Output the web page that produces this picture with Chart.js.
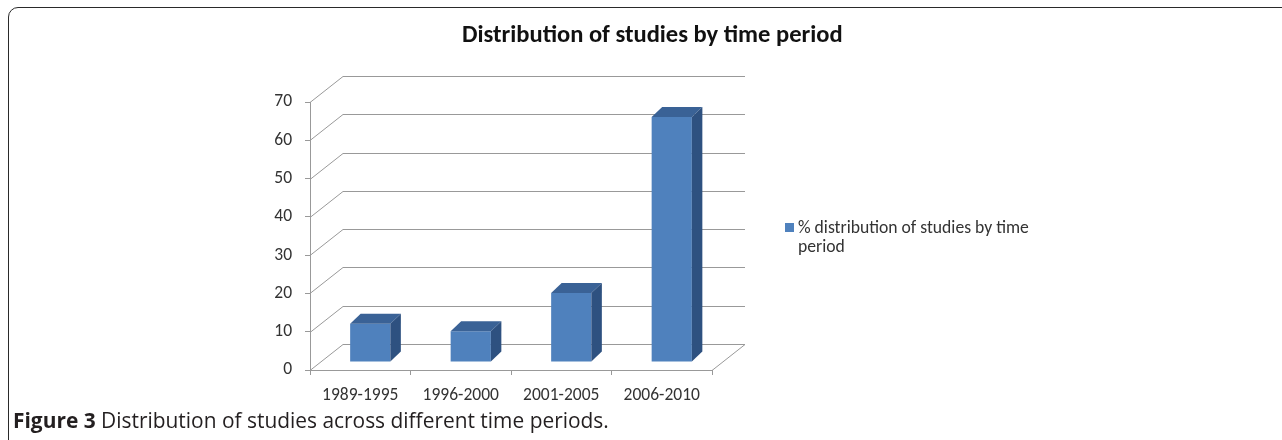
<!DOCTYPE html>
<html>
<head>
<meta charset="utf-8">
<script src="https://cdn.jsdelivr.net/npm/chart.js@4.4.1/dist/chart.umd.min.js"></script>
<style>
  html, body { margin: 0; padding: 0; background: #fff; }
  body { width: 1282px; height: 440px; position: relative; overflow: hidden; }
  #frame { position: absolute; left: 8px; top: 7px; width: 1300px; height: 460px;
           border: 1.6px solid #2a2a2a; border-top-left-radius: 10px; box-sizing: border-box; }
  canvas { position: absolute; left: 0; top: 0; }
  .txt { position: absolute; white-space: nowrap; font-family: 'Carlito', 'Open Sans', sans-serif; }
  #title { font-weight: bold; color: #111; }
  #legend { color: #333; }
  #legend .sw { position: absolute; left: 0; width: 9px; height: 9px; background: #4f81bd; }
  #caption { color: #231f20; font-family: 'Open Sans', sans-serif; }
</style>
</head>
<body>
<div id="frame"></div>
<canvas id="c" width="1282" height="440"></canvas>
<div id="title" class="txt"></div>
<div id="legend" class="txt"><div class="sw"></div><div id="l1" style="position:absolute;"></div><div id="l2" style="position:absolute;"></div></div>
<div id="caption" class="txt"><b id="capB"></b><span id="capR"></span></div>
<script>
// ---- data ----
const categories = ['1989-1995', '1996-2000', '2001-2005', '2006-2010'];
const seriesValues = [10, 8, 18, 64];
const seriesLabel = '% distribution of studies by time period';
const yTicks = [0, 10, 20, 30, 40, 50, 60, 70];
const titleText = 'Distribution of studies by time period';
const captionBold = 'Figure 3';
const captionRest = ' Distribution of studies across different time periods.';

// ---- helpers ----
const mctx = document.createElement('canvas').getContext('2d');
function fitSize(text, weight, family, target) {
  mctx.font = weight + ' 100px ' + family;
  return 100 * target / mctx.measureText(text).width;
}
const FAM = "'Carlito', 'Open Sans', sans-serif";

// title
const tEl = document.getElementById('title');
tEl.textContent = titleText;
const tSize = fitSize(titleText, 'bold', FAM, 381);
tEl.style.fontSize = tSize + 'px';
tEl.style.left = '462px';
tEl.style.top = (36 - tSize * 0.68) + 'px';

// legend
const legText1 = '% distribution of studies by time';
const legText2 = 'period';
const lSize = fitSize(legText1, 'normal', FAM, 231);
const l1 = document.getElementById('l1'), l2 = document.getElementById('l2');
l1.textContent = legText1; l2.textContent = legText2;
const leg = document.getElementById('legend');
leg.style.fontSize = lSize + 'px';
leg.style.left = '785px';
leg.style.top = '218px';
leg.querySelector('.sw').style.top = '5px';
l1.style.left = '13px'; l1.style.top = (10 - lSize * 0.68) + 'px';
l2.style.left = '13px'; l2.style.top = (29 - lSize * 0.68) + 'px';

// caption
document.getElementById('capB').textContent = captionBold;
document.getElementById('capR').textContent = captionRest;
mctx.font = 'bold 100px "Open Sans"';
const wb = mctx.measureText(captionBold).width;
mctx.font = 'normal 100px "Open Sans"';
const wr = mctx.measureText(captionRest).width;
const cSize = 100 * 596 / (wb + wr);
const cap = document.getElementById('caption');
cap.style.fontSize = cSize + 'px';
cap.style.left = '13px';
cap.style.top = (420 - cSize * 0.68) + 'px';

// ---- 3D geometry (projection offsets) ----
const WALL_DX = 33, WALL_DY = -26;   // back wall depth
const BAR_DX = 10, BAR_DY = -8;      // bar placement depth
const BAR_DEPTH_DX = 10.5, BAR_DEPTH_DY = -10; // bar thickness
const GRID = '#999999';

const wallPlugin = {
  id: 'wall3d',
  beforeDatasetsDraw(chart) {
    const ctx = chart.ctx, ys = chart.scales.y, a = chart.chartArea;
    ctx.save();
    ctx.strokeStyle = GRID; ctx.lineWidth = 1;
    ys.ticks.forEach(t => {
      const y = Math.round(ys.getPixelForValue(t.value)) + 0.5;
      ctx.beginPath();
      ctx.moveTo(a.left, y);
      ctx.lineTo(a.left + WALL_DX, y + WALL_DY);
      ctx.lineTo(a.right + WALL_DX, y + WALL_DY);
      ctx.stroke();
    });
    const yb = Math.round(ys.getPixelForValue(0)) + 0.5;
    ctx.beginPath();
    ctx.moveTo(a.right, yb);
    ctx.lineTo(a.right + WALL_DX, yb + WALL_DY);
    ctx.stroke();
    ctx.restore();
    // shift bars into middle depth
    ctx.save();
    ctx.translate(BAR_DX, BAR_DY);
  },
  afterDatasetsDraw(chart) {
    const ctx = chart.ctx;
    const meta = chart.getDatasetMeta(0);
    meta.data.forEach(bar => {
      const p = bar.getProps(['x', 'y', 'base', 'width'], true);
      const l = p.x - p.width / 2, r = p.x + p.width / 2, top = p.y, base = p.base;
      ctx.fillStyle = '#3a6296';
      ctx.beginPath();
      ctx.moveTo(l, top);
      ctx.lineTo(l + BAR_DEPTH_DX, top + BAR_DEPTH_DY);
      ctx.lineTo(r + BAR_DEPTH_DX, top + BAR_DEPTH_DY);
      ctx.lineTo(r, top);
      ctx.closePath(); ctx.fill();
      ctx.fillStyle = '#2e5180';
      ctx.beginPath();
      ctx.moveTo(r, top);
      ctx.lineTo(r + BAR_DEPTH_DX, top + BAR_DEPTH_DY);
      ctx.lineTo(r + BAR_DEPTH_DX, base + BAR_DEPTH_DY);
      ctx.lineTo(r, base);
      ctx.closePath(); ctx.fill();
    });
    ctx.restore();
  }
};

new Chart(document.getElementById('c'), {
  type: 'bar',
  data: {
    labels: categories,
    datasets: [{
      label: seriesLabel,
      data: seriesValues,
      backgroundColor: '#4f81bd',
      borderWidth: 0,
      categoryPercentage: 1,
      barPercentage: 0.4
    }]
  },
  options: {
    responsive: false,
    animation: false,
    events: [],
    layout: { padding: { left: 270, right: 570, top: 102, bottom: 40 } },
    plugins: { legend: { display: false }, title: { display: false }, tooltip: { enabled: false } },
    scales: {
      x: {
        offset: true,
        grid: { display: true, drawOnChartArea: false, drawTicks: true, tickLength: 5, color: GRID, offset: true },
        border: { display: true, color: GRID },
        ticks: { color: '#333', padding: 10, font: { family: FAM, size: 17.5 }, maxRotation: 0 },
        afterFit(s) { s.height = 30; }
      },
      y: {
        min: 0, max: 70,
        afterBuildTicks(s) { s.ticks = yTicks.map(v => ({ value: v })); },
        grid: { display: true, drawOnChartArea: false, drawTicks: true, tickLength: 5, color: GRID },
        border: { display: true, color: GRID },
        ticks: { color: '#333', padding: 13, font: { family: FAM, size: 17.5 } },
        afterFit(s) { s.width = 40; }
      }
    }
  },
  plugins: [wallPlugin]
});
</script>
</body>
</html>
